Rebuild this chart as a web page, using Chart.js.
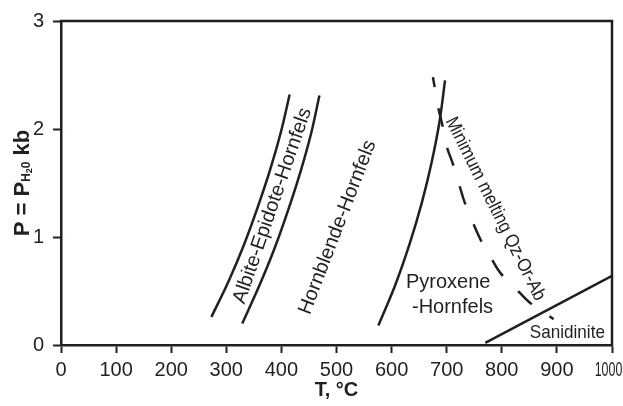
<!DOCTYPE html>
<html>
<head>
<meta charset="utf-8">
<script src="https://cdn.jsdelivr.net/npm/chart.js@4.4.0/dist/chart.umd.min.js"></script>
<style>
  html, body { margin: 0; padding: 0; background: #fff; }
</style>
</head>
<body>
<canvas id="chart1" width="623" height="406"></canvas>
<script>
// facies boundaries (T in °C, P in kb)
const albiteT = [273, 305, 333, 358, 380, 399, 415];
const albiteP = [0.26, 0.60, 0.94, 1.29, 1.63, 1.97, 2.32];
const hornblendeT = [329, 360, 388, 413, 435, 454, 469];
const hornblendeP = [0.20, 0.55, 0.90, 1.26, 1.61, 1.96, 2.31];
const pyroxeneT = [576, 607, 633, 655, 673, 687, 697];
const pyroxeneP = [0.18, 0.56, 0.94, 1.32, 1.70, 2.07, 2.45];
const meltT = [675, 685, 692, 700, 711, 723, 732, 747, 761, 779, 797, 824, 849, 879, 894];
const meltP = [2.48, 2.19, 2.04, 1.84, 1.68, 1.48, 1.33, 1.14, 0.98, 0.82, 0.67, 0.53, 0.40, 0.29, 0.24];
const sanidiniteT = [770, 1000];
const sanidiniteP = [0.02, 0.64];

const tTicks = [0, 100, 200, 300, 400, 500, 600, 700, 800, 900, 1000];
const pTicks = [0, 1, 2, 3];

const ink = '#231f20';
const family = '"Liberation Sans", Arial, Helvetica, sans-serif';

function pts(xs, ys) {
    return xs.map((v, i) => ({ x: v, y: ys[i] }));
}

function line(xs, ys, dashed) {
    return {
        data: pts(xs, ys),
        borderColor: ink,
        borderWidth: 2.5,
        pointRadius: 0,
        tension: 0.35,
        fill: false,
        borderDash: dashed ? [19, 21.5] : [],
        borderDashOffset: dashed ? 9 : 0
    };
}

function drawText(ctx, text, px, py, angle, size, squeeze, align, baseline) {
    ctx.save();
    ctx.translate(px, py);
    ctx.rotate(angle * Math.PI / 180);
    ctx.scale(squeeze, 1);
    ctx.font = size + 'px ' + family;
    ctx.fillStyle = ink;
    ctx.textAlign = align;
    ctx.textBaseline = baseline;
    ctx.fillText(text, 0, 0);
    ctx.restore();
}

// field names placed in data coordinates
const fieldLabels = [
    ['Albite-Epidote-Hornfels', 384, 1.29, -71, 20, 1, 'center', 'middle'],
    ['Hornblende-Hornfels', 502, 1.09, -69, 20, 1, 'center', 'middle'],
    ['Pyroxene', 626, 0.53, 0, 20, 1, 'left', 'alphabetic'],
    ['-Hornfels', 637, 0.297, 0, 20, 1, 'left', 'alphabetic'],
    ['Minimum melting Qz-Or-Ab', 788, 1.26, 63.5, 19, 0.88, 'center', 'middle'],
    ['Sanidinite', 919, 0.114, 0, 19, 0.9, 'center', 'middle']
];

const decor = {
    id: 'decor',
    afterDraw(chart) {
        const { ctx, chartArea: a, scales: { x, y } } = chart;
        ctx.save();
        // top and right edge of the frame
        ctx.strokeStyle = ink;
        ctx.lineWidth = 2.5;
        ctx.lineCap = 'square';
        ctx.beginPath();
        ctx.moveTo(a.left, a.top);
        ctx.lineTo(a.right, a.top);
        ctx.lineTo(a.right, a.bottom);
        ctx.stroke();
        ctx.restore();

        fieldLabels.forEach(l => {
            drawText(ctx, l[0], x.getPixelForValue(l[1]), y.getPixelForValue(l[2]), l[3], l[4], l[5], l[6], l[7]);
        });

        // squeezed last tick label, as in the original
        drawText(ctx, String(tTicks[tTicks.length - 1]), x.getPixelForValue(1000) - 3.5, a.bottom + 25, 0, 20, 0.62, 'center', 'middle');

        // y title with subscript
        ctx.save();
        ctx.translate(21, (a.top + a.bottom) / 2);
        ctx.rotate(-Math.PI / 2);
        ctx.fillStyle = ink;
        ctx.textBaseline = 'alphabetic';
        ctx.textAlign = 'left';
        const big = 'bold 22px ' + family, sub = 'bold 12px ' + family, sub2 = 'bold 9px ' + family;
        const parts = [['P = P', big, 0], ['H', sub, 1], ['2', sub2, 3], ['0', sub, 1], [' kb', big, 0]];
        let total = 0;
        parts.forEach(p => { ctx.font = p[1]; total += ctx.measureText(p[0]).width; });
        let cx = -total / 2;
        parts.forEach(p => {
            ctx.font = p[1];
            ctx.fillText(p[0], cx, 7.5 + p[2]);
            cx += ctx.measureText(p[0]).width;
        });
        ctx.restore();
    }
};

const ctx1 = document.getElementById('chart1').getContext('2d');

let chart1 = new Chart(ctx1, {
    type: 'line',
    data: {
        datasets: [
            line(albiteT, albiteP, false),
            line(hornblendeT, hornblendeP, false),
            line(pyroxeneT, pyroxeneP, false),
            line(meltT, meltP, true),
            line(sanidiniteT, sanidiniteP, false)
        ]
    },
    options: {
        responsive: false,
        animation: false,
        layout: { padding: { top: 17, right: 11, bottom: 0, left: 0 } },
        plugins: {
            legend: { display: false },
            tooltip: { enabled: false }
        },
        scales: {
            x: {
                type: 'linear',
                min: 0,
                max: 1000,
                afterBuildTicks: s => { s.ticks = tTicks.map(v => ({ value: v })); },
                afterFit: s => { s.height = 61; s.paddingLeft = 0; s.paddingRight = 0; },
                ticks: {
                    color: ink,
                    font: { family: family, size: 20 },
                    padding: 5,
                    maxRotation: 0,
                    autoSkip: false,
                    callback: v => v === 1000 ? '' : v
                },
                grid: { drawOnChartArea: false, tickLength: 8, tickWidth: 2, tickColor: ink },
                border: { color: ink, width: 2.5 },
                title: {
                    display: true,
                    text: 'T, °C',
                    color: ink,
                    font: { family: family, size: 20, weight: 'bold' },
                    padding: { top: 0, bottom: 4 }
                }
            },
            y: {
                type: 'linear',
                min: 0,
                max: 3,
                afterBuildTicks: s => { s.ticks = pTicks.map(v => ({ value: v })); },
                afterFit: s => { s.width = 61; },
                ticks: {
                    color: ink,
                    font: { family: family, size: 20 },
                    padding: 9
                },
                grid: { drawOnChartArea: false, tickLength: 8, tickWidth: 2, tickColor: ink },
                border: { color: ink, width: 2.5 }
            }
        }
    },
    plugins: [decor]
});
</script>
</body>
</html>
